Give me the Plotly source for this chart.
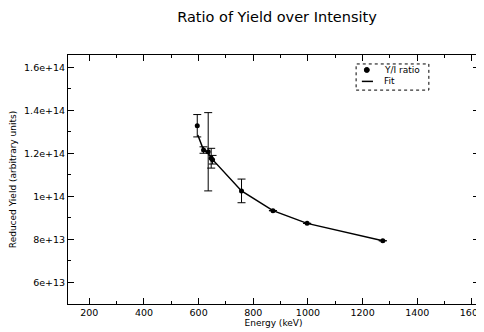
import plotly.graph_objects as go

energy = [595, 618, 635, 646, 651, 757, 872, 997, 1274]
ratio = [1.328e14, 1.215e14, 1.207e14, 1.177e14, 1.17e14, 1.025e14, 9.33e13, 8.74e13, 7.93e13]
ratio_err = [5.2e12, 1.5e12, 1.82e13, 4.6e12, 2.0e12, 5.5e12, 0, 0, 0]

fit_energy = [597, 618, 635, 648, 757, 872, 997, 1274]
fit_yield = [1.285e14, 1.215e14, 1.2e14, 1.175e14, 1.025e14, 9.33e13, 8.74e13, 7.93e13]

y_tickvals = [6e13, 8e13, 1e14, 1.2e14, 1.4e14, 1.6e14]
y_ticktext = ["6e+13", "8e+13", "1e+14", "1.2e+14", "1.4e+14", "1.6e+14"]
x_tickvals = [200, 400, 600, 800, 1000, 1200, 1400, 1600]

font = "DejaVu Sans"
fig = go.Figure()
fig.add_trace(go.Scatter(
    x=energy, y=ratio, mode="markers", name="Y/I ratio",
    marker=dict(color="black", size=5, symbol="circle"),
    error_y=dict(type="data", array=ratio_err, visible=True, color="black", thickness=1, width=4),
))
fig.add_trace(go.Scatter(
    x=fit_energy, y=fit_yield, mode="lines", name="Fit",
    line=dict(color="black", width=1.5),
))

axis_common = dict(
    showline=True, linecolor="black", linewidth=1, mirror="allticks",
    ticks="inside", ticklen=6, tickcolor="black", showgrid=False, zeroline=False,
    automargin=False,
)
fig.update_xaxes(
    range=[122, 1626], tickvals=x_tickvals,
    tickfont=dict(family=font, size=9.5, color="black"),
    minor=dict(ticks="inside", ticklen=3, dtick=100, tick0=0, tickcolor="black"),
    title=dict(text="Energy (keV)", font=dict(family=font, size=9, color="black"), standoff=0),
    **axis_common,
)
fig.update_yaxes(
    range=[4.99e13, 1.657e14], tickvals=y_tickvals, ticktext=y_ticktext,
    tickfont=dict(family=font, size=9.5, color="black"),
    minor=dict(ticks="inside", ticklen=3, dtick=1e13, tick0=0, tickcolor="black"),
    title=dict(text="Reduced Yield (arbitrary units)", font=dict(family=font, size=9, color="black"), standoff=6),
    **axis_common,
)
# legend box
fig.add_shape(type="rect", xref="paper", yref="paper", x0=0.701, x1=0.878, y0=0.859, y1=0.964,
              line=dict(color="black", width=1, dash="dot"))
fig.add_shape(type="circle", xref="paper", yref="paper",
              xsizemode="pixel", ysizemode="pixel", xanchor=0.727, yanchor=0.94,
              x0=-2.5, x1=2.5, y0=-2.5, y1=2.5,
              line=dict(color="black", width=1), fillcolor="black")
fig.add_shape(type="line", xref="paper", yref="paper", x0=0.715, x1=0.742, y0=0.894, y1=0.894,
              line=dict(color="black", width=1.5))
fig.add_annotation(text="Y/I ratio", xref="paper", yref="paper", x=0.764, y=0.94, xanchor="left",
                   yanchor="middle", showarrow=False, font=dict(family=font, size=9, color="black"))
fig.add_annotation(text="Fit", xref="paper", yref="paper", x=0.764, y=0.896, xanchor="left",
                   yanchor="middle", showarrow=False, font=dict(family=font, size=9, color="black"))
# page body has an 8px default margin, compensate in the figure margins
fig.update_layout(
    width=484, height=332,
    margin=dict(l=60, r=13, t=47, b=36),
    paper_bgcolor="white", plot_bgcolor="white",
    title=dict(text="Ratio of Yield over Intensity", x=(277 - 8) / 484, xanchor="center",
               y=1 - (17 - 8) / 332, yanchor="middle", yref="container",
               font=dict(family=font, size=14.5, color="black")),
    showlegend=False,
)
fig.write_html("out.html")
